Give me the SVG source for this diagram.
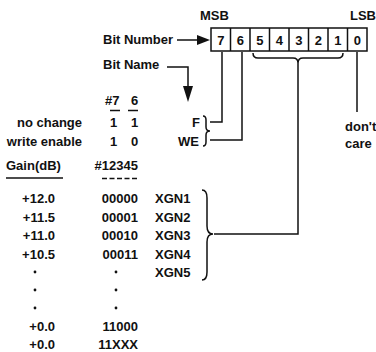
<svg xmlns="http://www.w3.org/2000/svg" width="376" height="352" viewBox="0 0 376 352">
<style>
text{font-family:"Liberation Sans",Arial,sans-serif;font-weight:bold;font-size:13px;fill:#111}
.e{text-anchor:end}
.m{text-anchor:middle}
.ln{fill:none;stroke:#111;stroke-width:1.5}
.cell{fill:#fff;stroke:#111;stroke-width:1.5}
.dot{fill:#111}
</style>
<rect width="376" height="352" fill="#fff"/>
<g id="register">
<text x="200" y="20">MSB</text>
<text x="350" y="20">LSB</text>
<rect class="cell" x="211" y="28" width="156" height="23"/>
<path class="ln" d="M230.5,28V51M250,28V51M269.5,28V51M289,28V51M308.5,28V51M328,28V51M347.5,28V51"/>
<text class="m" x="220.75" y="45">7</text>
<text class="m" x="240.25" y="45">6</text>
<text class="m" x="259.75" y="45">5</text>
<text class="m" x="279.25" y="45">4</text>
<text class="m" x="298.75" y="45">3</text>
<text class="m" x="318.25" y="45">2</text>
<text class="m" x="337.75" y="45">1</text>
<text class="m" x="357.25" y="45">0</text>
</g>
<g id="bit-number-label"><text x="103" y="44">Bit Number</text></g>
<g id="bit-name-label"><text x="103" y="69">Bit Name</text></g>
<g id="flag-table">
<text x="105" y="104.5">#7 <tspan x="131">6</tspan></text>
<path class="ln" d="M110,110.5H120M128,110.5H138"/>
<text class="e" x="82" y="127">no change</text>
<text x="110" y="127">1<tspan x="131">1</tspan></text>
<text class="e" x="82" y="145.5">write enable</text>
<text x="110" y="145.5">1<tspan x="131">0</tspan></text>
<text class="e" x="200" y="127">F</text>
<text class="e" x="199" y="145.5">WE</text>
<path class="ln" d="M203,116Q206,116 206,120L206,127Q206,131 210,131Q206,131 206,135L206,142Q206,146 203,146"/>
</g>
<g id="gain-table">
<text x="6" y="170">Gain(dB)</text>
<path class="ln" d="M6,178H63"/>
<text class="e" x="138" y="170">#12345</text>
<path class="ln" d="M102,178.5H107M109.5,178.5H114.5M117,178.5H122M124.5,178.5H129.5M132,178.5H137"/>
<text class="e" x="55" y="203">+12.0</text>
<text class="e" x="55" y="221.5">+11.5</text>
<text class="e" x="55" y="240">+11.0</text>
<text class="e" x="55" y="258.5">+10.5</text>
<text class="e" x="55" y="331">+0.0</text>
<text class="e" x="55" y="348.5">+0.0</text>
<text class="e" x="138" y="203">00000</text>
<text class="e" x="138" y="221.5">00001</text>
<text class="e" x="138" y="240">00010</text>
<text class="e" x="138" y="258.5">00011</text>
<text class="e" x="138" y="331">11000</text>
<text class="e" x="138" y="348.5">11XXX</text>
<circle class="dot" cx="35" cy="272" r="1.4"/>
<circle class="dot" cx="35" cy="290" r="1.4"/>
<circle class="dot" cx="35" cy="308" r="1.4"/>
<circle class="dot" cx="116" cy="272" r="1.4"/>
<circle class="dot" cx="116" cy="290" r="1.4"/>
<circle class="dot" cx="116" cy="308" r="1.4"/>
<text x="155" y="203">XGN1</text>
<text x="155" y="221.5">XGN2</text>
<text x="155" y="240">XGN3</text>
<text x="155" y="258.5">XGN4</text>
<text x="155" y="277">XGN5</text>
<path class="ln" d="M202,190Q207,190 207,198L207,226Q207,234 213,234Q207,234 207,242L207,272Q207,280 202,280"/>
</g>
<g id="dont-care"><text x="345" y="131">don't</text><text x="345" y="148">care</text></g>
<g id="connectors">
<path class="ln" d="M177,40H199"/>
<polygon class="dot" points="197,35 210,40 197,45"/>
<path class="ln" d="M167,67H188V88"/>
<polygon class="dot" points="183,86 193,86 188,102"/>
<path class="ln" d="M253,53Q253,58 258,58L293,58Q298,58 298,63Q298,58 303,58L338,58Q343,58 343,53"/>
<path class="ln" d="M222,52V122H210"/>
<path class="ln" d="M242,52V140H210"/>
<path class="ln" d="M298,63V234H214"/>
<path class="ln" d="M357,52V112"/>
</g>
</svg>
